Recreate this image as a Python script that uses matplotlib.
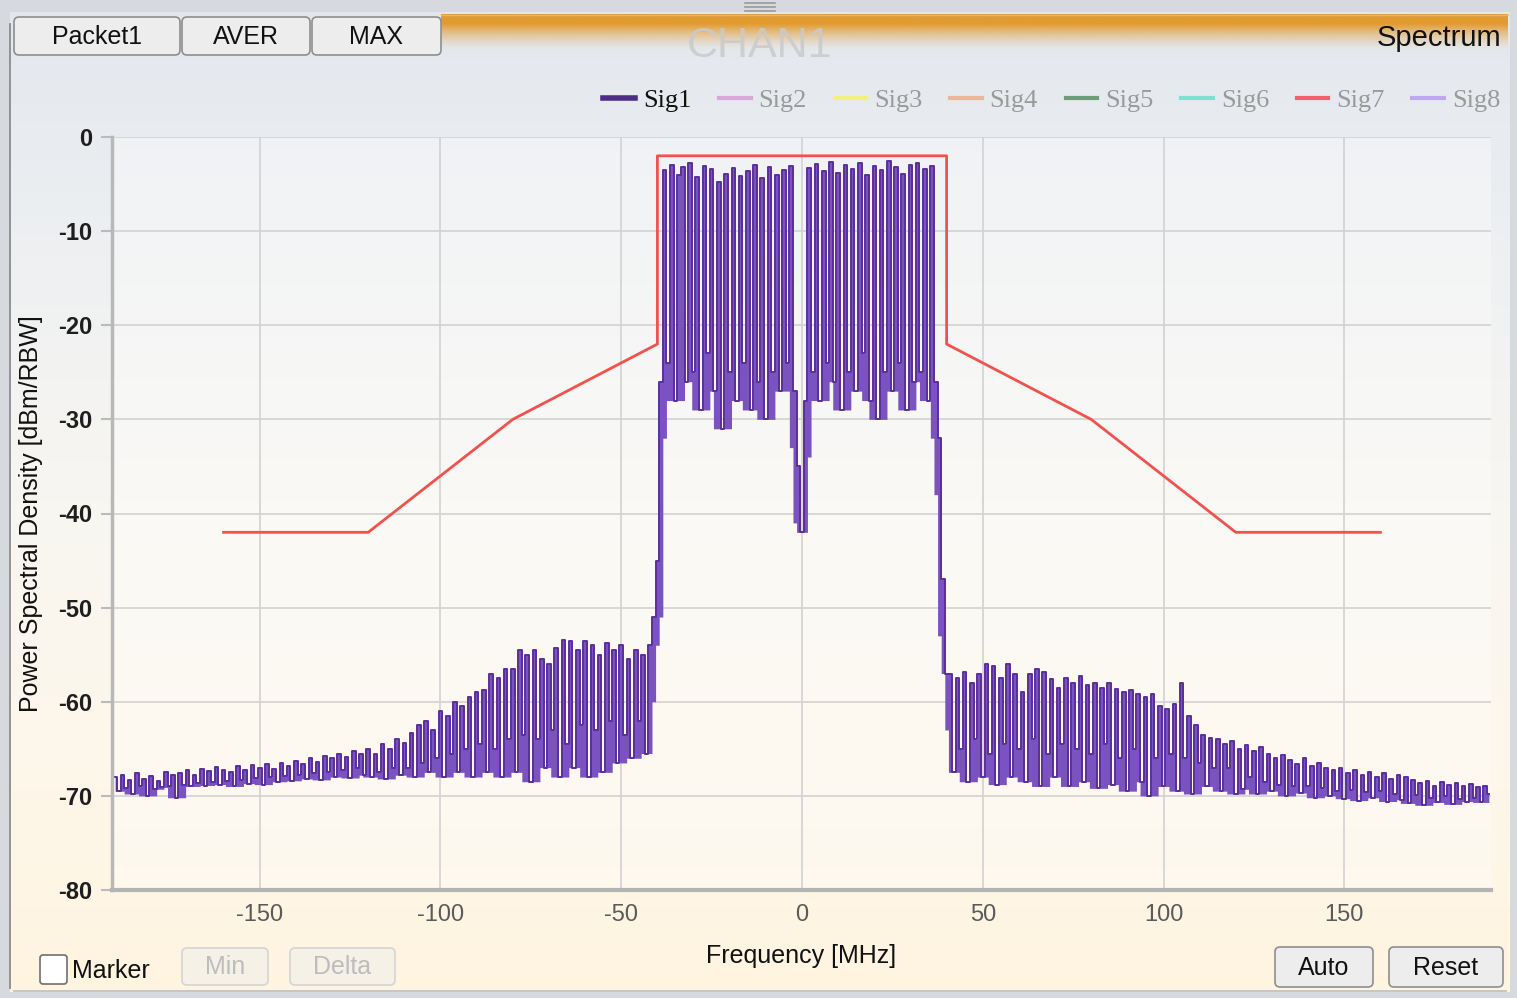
import numpy as np
import matplotlib
matplotlib.use("Agg")
import matplotlib.pyplot as plt
from matplotlib.patches import FancyBboxPatch, Rectangle
from matplotlib.lines import Line2D
from matplotlib.colors import LinearSegmentedColormap, to_rgba

W, H = 1517, 998

# Sig1 power spectral density, one value per 1 MHz bin starting at -190 MHz
FREQ_START = -190

psd_floor_left = [  # -190 .. -121 MHz
    -68.0, -69.5, -67.8, -69.2, -68.3, -69.8, -67.6, -69.0, -68.2, -70.0,
    -67.9, -69.3, -68.4, -69.1, -67.5, -68.9, -67.8, -70.2, -67.6, -68.8,
    -67.3, -69.0, -67.8, -68.6, -67.1, -68.9, -67.4, -68.5, -66.9, -68.8,
    -67.2, -68.4, -67.5, -69.0, -66.8, -68.3, -67.2, -68.7, -66.7, -68.1,
    -67.0, -68.8, -66.6, -68.0, -67.1, -68.5, -66.5, -67.9, -66.8, -68.4,
    -66.3, -67.8, -66.6, -68.2, -66.0, -67.6, -66.4, -68.3, -65.8, -67.5,
    -66.0, -68.0, -65.5, -67.3, -65.9, -68.1, -65.2, -67.0, -65.6, -67.8,
]
psd_shoulder_left = [  # -120 .. -41 MHz
    -65.0, -68.0, -65.5, -67.5, -64.5, -68.2, -65.0, -67.0, -64.0, -67.8,
    -64.4, -67.0, -63.3, -68.0, -62.5, -66.5, -62.0, -67.5, -63.0, -66.0,
    -61.0, -68.0, -61.5, -65.5, -60.0, -67.5, -60.5, -65.0, -59.5, -68.0,
    -59.0, -64.5, -58.7, -67.5, -57.0, -65.0, -57.5, -68.0, -56.5, -64.0,
    -56.5, -67.5, -54.5, -63.5, -55.0, -68.5, -54.5, -64.0, -55.5, -67.0,
    -56.0, -63.0, -54.3, -68.0, -53.4, -64.5, -53.5, -67.0, -54.5, -62.5,
    -53.5, -68.0, -54.0, -63.0, -55.0, -67.5, -53.8, -62.0, -54.5, -66.5,
    -54.0, -63.5, -55.5, -66.0, -54.5, -62.0, -55.0, -65.5, -54.0, -51.0,
]
psd_band = [  # -40 .. 40 MHz
    -45, -26, -3.5, -24, -3.0, -28, -4.0, -3.2, -26, -2.8,
    -25, -4.2, -29, -3.1, -23, -3.4, -27, -4.8, -31, -3.9,
    -25, -3.3, -28, -4.1, -24, -3.6, -29, -3.0, -26, -4.4,
    -30, -3.2, -25, -4.0, -27, -3.5, -24, -3.1, -27, -35,
    -42, -28, -3.3, -25, -2.9, -28, -3.6, -24, -2.7, -26,
    -3.8, -29, -3.0, -25, -3.4, -27, -2.8, -23, -4.0, -28,
    -3.1, -30, -3.5, -25, -2.6, -27, -3.2, -24, -3.9, -29,
    -3.0, -26, -2.8, -25, -3.4, -28, -3.1, -26, -32, -47,
    -57,
]
psd_shoulder_right = [  # 41 .. 120 MHz
    -57.0, -67.5, -57.5, -65.0, -56.8, -68.5, -58.0, -64.0, -57.0, -68.0,
    -56.0, -65.5, -56.2, -68.8, -57.5, -64.5, -56.0, -68.0, -57.0, -65.0,
    -59.0, -68.5, -57.0, -64.0, -56.5, -69.0, -56.8, -65.5, -57.6, -68.0,
    -58.5, -64.5, -57.5, -69.0, -58.0, -65.0, -57.3, -68.5, -58.2, -65.5,
    -58.0, -69.2, -58.5, -64.5, -58.0, -68.8, -58.6, -66.0, -59.0, -69.5,
    -58.7, -65.0, -59.2, -68.5, -59.5, -70.0, -59.2, -66.0, -60.5, -69.0,
    -60.8, -65.5, -60.2, -69.5, -58.0, -66.0, -61.5, -69.8, -62.5, -66.5,
    -63.5, -69.0, -63.8, -67.0, -64.0, -69.5, -64.5, -67.0, -64.2, -69.8,
]
psd_floor_right = [  # 121 .. 190 MHz
    -65.0, -69.3, -64.6, -68.0, -65.2, -69.8, -64.8, -68.5, -65.5, -69.5,
    -66.0, -68.8, -65.7, -70.0, -66.2, -68.9, -66.6, -69.7, -66.0, -69.0,
    -66.8, -70.2, -66.5, -69.2, -67.0, -70.0, -67.3, -69.5, -67.0, -70.3,
    -67.6, -69.4, -67.3, -70.5, -67.8, -69.6, -67.5, -70.2, -68.0, -69.5,
    -67.6, -70.6, -68.2, -69.8, -67.8, -70.4, -68.0, -70.8, -68.3, -69.9,
    -68.6, -71.0, -68.4, -70.2, -68.9, -70.7, -68.5, -70.0, -68.8, -70.9,
    -68.6, -70.3, -69.0, -70.6, -68.7, -70.2, -69.1, -70.7, -68.9, -69.8,
]

# spectrum emission mask (red trace)
mask_freq = [-160, -120, -80, -40, -40, 40, 40, 80, 120, 160]
mask_level = [-42, -42, -30, -22, -2, -2, -22, -30, -42, -42]

legend_names = ["Sig1", "Sig2", "Sig3", "Sig4", "Sig5", "Sig6", "Sig7", "Sig8"]
legend_colors = ["#4E2D86", "#D8A8D8", "#F2F07E", "#E8B898",
                 "#6E9E78", "#7EE0D0", "#F06070", "#C0A8F0"]

x_ticks = [-150, -100, -50, 0, 50, 100, 150]
y_ticks = [0, -10, -20, -30, -40, -50, -60, -70, -80]

sig1 = np.array(psd_floor_left + psd_shoulder_left + psd_band
                + psd_shoulder_right + psd_floor_right)
freq = FREQ_START + np.arange(len(sig1))


def window_min(y, k):
    padded = np.concatenate((np.full(k, y[0]), y, np.full(k, y[-1])))
    return np.min([padded[i:i + len(y)] for i in range(2 * k + 1)], axis=0)


# shade each bin down to where the dense trace settles between neighbouring bins
sig1_low = np.maximum(window_min(sig1, 2), window_min(sig1, 1) - 6)

plt.rcParams["font.family"] = ["Liberation Sans", "DejaVu Sans"]

fig = plt.figure(figsize=(W / 100, H / 100), dpi=100)

# ---- widget chrome, drawn in pixel coordinates ----
bg = fig.add_axes([0, 0, 1, 1])
bg.set_xlim(0, W)
bg.set_ylim(H, 0)
bg.set_axis_off()

bg.add_patch(Rectangle((0, 0), W, H, facecolor="#D6DADF", edgecolor="none"))
grad = LinearSegmentedColormap.from_list(
    "panel", ["#E3E7ED", "#EEF0F2", "#F8F6F1", "#FDF7EB", "#FFF4E0"])
bg.imshow(np.linspace(0, 1, 256).reshape(-1, 1), cmap=grad, aspect="auto",
          extent=(10, 1510, 992, 12), zorder=1)
bg.plot([10, 10], [24, 988], color="#8C8C8C", lw=1.3, zorder=2)
bg.plot([14, 1506], [991, 991], color="#B9BDC2", lw=1.2, zorder=2)

# orange title band
band_rgba = np.zeros((40, 1, 4))
orange = np.array(to_rgba("#E39A2E"))
for i in range(40):
    t = i / 39
    band_rgba[i, 0, :3] = orange[:3]
    band_rgba[i, 0, 3] = 1.0 if t < 0.25 else max(0.0, 1 - (t - 0.25) / 0.75) ** 1.6
bg.imshow(band_rgba, aspect="auto", extent=(441, 1508, 52, 14), zorder=2)
bg.plot([441, 1508], [14.5, 14.5], color="#BDBDBD", lw=1, zorder=3)

for yy in (3, 7, 11):
    bg.plot([745, 775], [yy, yy], color="#9A9A9A", lw=1.2, zorder=3)

bg.text(760, 46, "CHAN1", fontsize=31, color="#CACACA", ha="center", va="center",
        alpha=0.85, zorder=3)
bg.text(1501, 38, "Spectrum", fontsize=21, color="#111111", ha="right", va="center", zorder=4)


def button(x0, y0, x1, y1, label, enabled=True):
    face = "#EDEDED" if enabled else "#F6F1E6"
    edge = "#8E8E8E" if enabled else "#D4D4D4"
    bg.add_patch(FancyBboxPatch((x0, y0), x1 - x0, y1 - y0,
                                boxstyle="round,pad=0,rounding_size=5",
                                facecolor=face, edgecolor=edge, lw=1.2, zorder=4))
    bg.text((x0 + x1) / 2, (y0 + y1) / 2 + 1, label, fontsize=18,
            color="#111111" if enabled else "#BDBDBD",
            ha="center", va="center", zorder=5)


button(14, 17, 180, 55, "Packet1")
button(182, 17, 310, 55, "AVER")
button(312, 17, 441, 55, "MAX")
button(182, 948, 268, 985, "Min", enabled=False)
button(290, 948, 395, 985, "Delta", enabled=False)
button(1275, 947, 1373, 987, "Auto")
button(1389, 947, 1503, 987, "Reset")

bg.add_patch(FancyBboxPatch((40, 955), 27, 29, boxstyle="round,pad=0,rounding_size=3",
                            facecolor="white", edgecolor="#707070", lw=1.2, zorder=4))
bg.text(72, 971, "Marker", fontsize=18, color="#111111", ha="left", va="center", zorder=5)

# ---- spectrum axes ----
ax = fig.add_axes([111.5 / W, 1 - 890 / H, (1490.7 - 111.5) / W, (890 - 137) / H])
ax.set_facecolor((1, 1, 1, 0.35))
ax.set_xlim(-191, 190.5)
ax.set_ylim(-80, 0)
ax.set_axisbelow(True)
ax.grid(True, color="#D2D2D2", lw=1.2)

ax.fill_between(freq, sig1_low, sig1, step="mid", color="#7A53C0", lw=0, zorder=2)
ax.plot(freq, sig1, drawstyle="steps-mid", color="#5A2E9C", lw=1.4, zorder=2)
ax.plot(mask_freq, mask_level, color="#F2524E", lw=2.0, zorder=3)

ax.set_xticks(x_ticks)
ax.set_yticks(y_ticks)
ax.set_xticklabels([str(v) for v in x_ticks], fontsize=17, color="#5A5A5A")
ax.set_yticklabels([str(v) for v in y_ticks], fontsize=17, color="#1E1E1E", fontweight="bold")
ax.tick_params(axis="x", length=0, pad=10)
ax.tick_params(axis="y", length=8, width=1.5, color="#BBBBBB", pad=6)

for side in ("top", "right"):
    ax.spines[side].set_visible(False)
ax.spines["left"].set_color("#B8B8B8")
ax.spines["left"].set_linewidth(2.5)
ax.spines["bottom"].set_color("#B4B4B4")
ax.spines["bottom"].set_linewidth(3)

ax.set_xlabel("Frequency [MHz]", fontsize=18, color="#111111")
ax.xaxis.set_label_coords(0.5, -0.072)
ax.set_ylabel("Power Spectral Density [dBm/RBW]", fontsize=18, color="#111111")
ax.yaxis.set_label_coords(-0.05, 0.5)

handles = [Line2D([], [], color=c, lw=4 if i == 0 else 3)
           for i, c in enumerate(legend_colors)]
leg = ax.legend(handles, legend_names, loc="center right", bbox_to_anchor=(1.007, 1.049),
                ncol=8, frameon=False, handlelength=1.2, handletextpad=0.3,
                columnspacing=1.05, borderpad=0, borderaxespad=0,
                prop={"family": ["Liberation Serif", "DejaVu Serif"], "size": 19})
for i, t in enumerate(leg.get_texts()):
    t.set_color("#111111" if i == 0 else "#9A9A9A")

fig.savefig("out.png", dpi=100)
